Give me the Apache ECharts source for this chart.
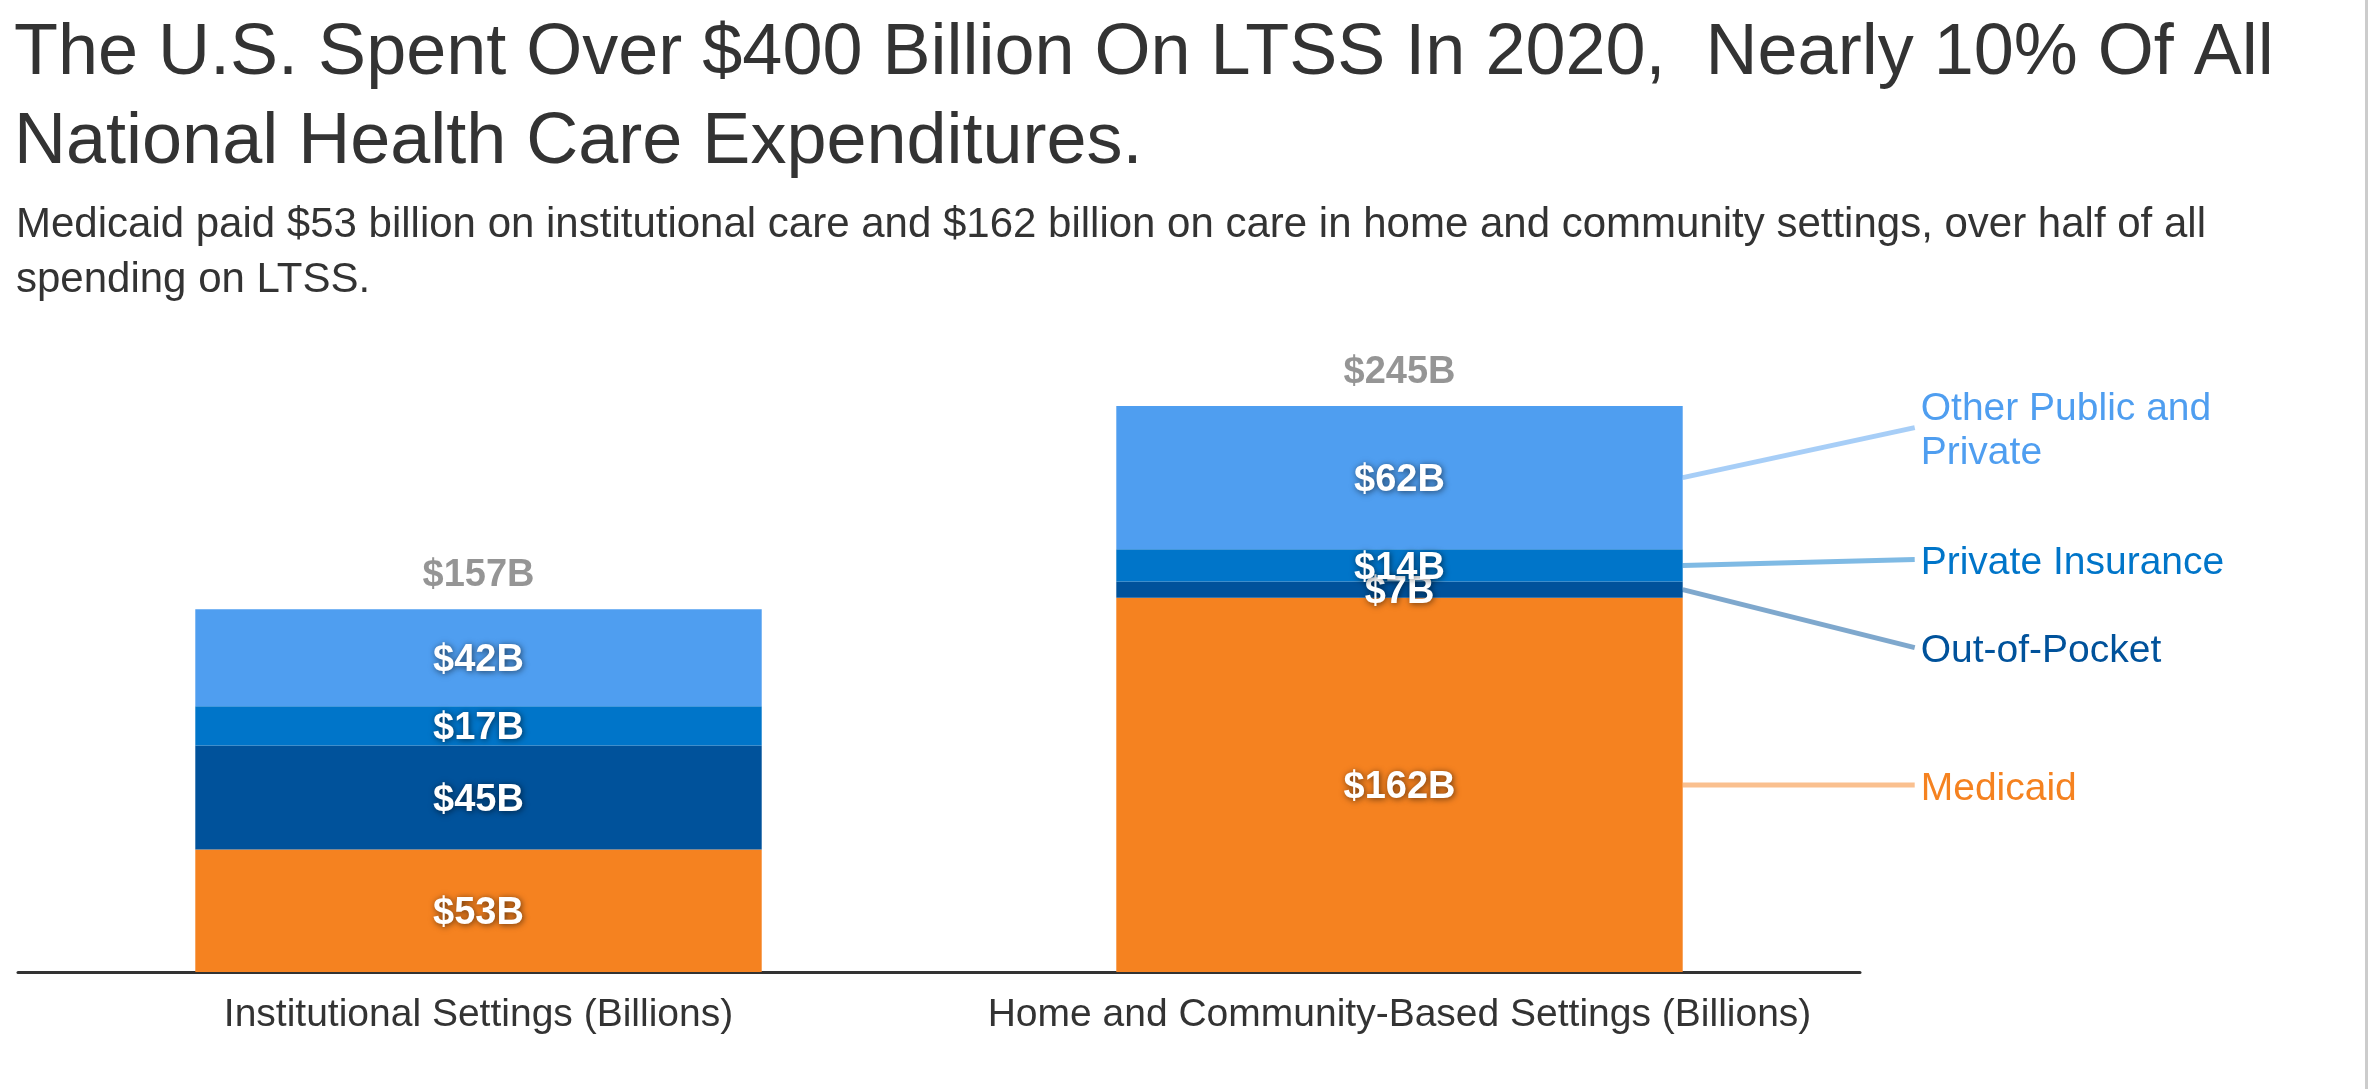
<!DOCTYPE html>
<html>
<head>
<meta charset="utf-8">
<script src="https://cdn.jsdelivr.net/npm/echarts@6/dist/echarts.min.js"></script>
<style>
  html, body { margin: 0; padding: 0; background: #fff; }
  #chart { width: 2377px; height: 1089px; }
</style>
</head>
<body>
<div id="chart"></div>
<script>
const categories = ['Institutional Settings (Billions)', 'Home and Community-Based Settings (Billions)']
const seriesNames = ['Medicaid', 'Out-of-Pocket', 'Private Insurance', 'Other Public and\nPrivate']
const medicaid = [53, 162]
const outOfPocket = [45, 7]
const privateInsurance = [17, 14]
const otherPublicPrivate = [42, 62]
const totals = [157, 245]

const colors = ['#f58220', '#00529b', '#0075c9', '#4f9ef0']
const FONT = '"Liberation Sans", Arial, Helvetica, sans-serif'
// vertical nudge (px) of each side label away from its segment middle
const labelNudge = [0, 58, -6, -50]

const values = [medicaid, outOfPocket, privateInsurance, otherPublicPrivate]

const chart = echarts.init(document.getElementById('chart'))

const barSeries = values.map((data, i) => ({
  name: seriesNames[i],
  type: 'bar',
  stack: 'total',
  barWidth: '61.5%',
  data: data,
  itemStyle: { color: colors[i] },
  label: {
    show: true,
    position: 'inside',
    offset: [0, 3],
    formatter: p => '$' + p.value + 'B',
    fontFamily: FONT,
    fontSize: 38,
    fontWeight: 'bold',
    color: '#fff',
    textShadowColor: 'rgba(0,0,0,0.6)',
    textShadowBlur: 6,
    textShadowOffsetX: 1,
    textShadowOffsetY: 1
  }
}))

// leader lines + labels beside the second bar
const last = categories.length - 1
const leaderData = []
let cum = 0
values.forEach((data, i) => {
  leaderData.push([last, cum, data[last], i])
  cum += data[last]
})

const option = {
  animation: false,
  backgroundColor: '#fff',
  title: [
    {
      text: 'The U.S. Spent Over $400 Billion On LTSS In 2020,  Nearly 10% Of All\nNational Health Care Expenditures.',
      left: 14,
      top: 10,
      padding: 0,
      textStyle: { fontFamily: FONT, fontSize: 72, fontWeight: 'normal', color: '#333', lineHeight: 89 }
    },
    {
      text: 'Medicaid paid $53 billion on institutional care and $162 billion on care in home and community settings, over half of all\nspending on LTSS.',
      left: 16,
      top: 198,
      padding: 0,
      textStyle: { fontFamily: FONT, fontSize: 42, fontWeight: 'normal', color: '#333', lineHeight: 55 }
    }
  ],
  graphic: [
    { type: 'rect', left: 2365, top: 0, shape: { width: 3, height: 1089 }, style: { fill: '#cccccc' } }
  ],
  grid: { left: 18, right: 517, top: 279, bottom: 117, containLabel: false },
  xAxis: {
    type: 'category',
    data: categories,
    axisLine: { lineStyle: { color: '#333', width: 3 } },
    axisTick: { show: false },
    axisLabel: { fontFamily: FONT, fontSize: 39, color: '#333', margin: 24, interval: 0 }
  },
  yAxis: {
    type: 'value',
    min: 0,
    max: 300,
    show: false,
    splitLine: { show: false }
  },
  series: [
    ...barSeries,
    {
      type: 'scatter',
      data: totals,
      symbolSize: 0,
      silent: true,
      label: {
        show: true,
        position: 'top',
        distance: 15,
        formatter: p => '$' + p.value + 'B',
        fontFamily: FONT,
        fontSize: 38,
        fontWeight: 'bold',
        color: '#7a7a7a'
      }
    },
    {
      type: 'custom',
      clip: false,
      silent: true,
      encode: { x: 0, y: 1 },
      data: leaderData,
      renderItem: (params, api) => {
        const i = api.value(3)
        const base = api.value(1)
        const v = api.value(2)
        const p0 = api.coord([api.value(0), base])
        const p1 = api.coord([api.value(0), base + v])
        const band = api.size([1, 0])[0]
        const x0 = p0[0] + band * 0.615 / 2
        const yMid = (p0[1] + p1[1]) / 2
        const x1 = x0 + 232
        const y1 = yMid + labelNudge[i]
        return {
          type: 'group',
          children: [
            {
              type: 'line',
              shape: { x1: x0, y1: yMid, x2: x1, y2: y1 },
              style: { stroke: colors[i], lineWidth: 5, opacity: 0.5 }
            },
            {
              type: 'text',
              x: x1 + 6,
              y: y1 + 4,
              style: {
                text: seriesNames[i],
                fill: colors[i],
                font: '39px ' + FONT,
                lineHeight: 44,
                align: 'left',
                verticalAlign: 'middle'
              }
            }
          ]
        }
      }
    }
  ]
}

chart.setOption(option)
</script>
</body>
</html>
